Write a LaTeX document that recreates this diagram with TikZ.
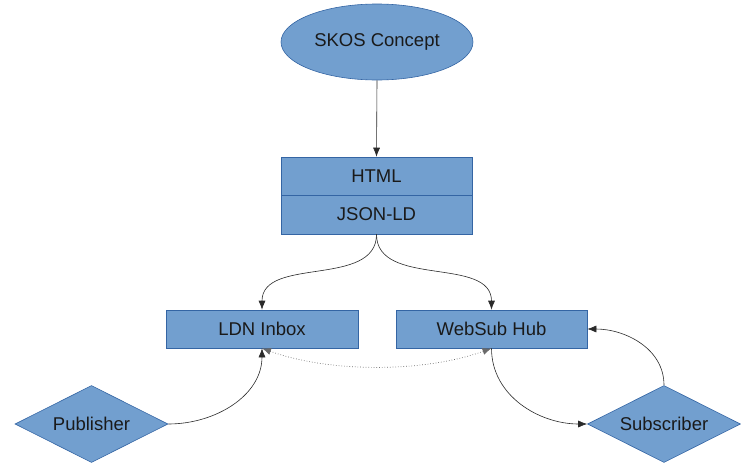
\documentclass[tikz,border=0pt]{standalone}
\usepackage{fontspec}
\setmainfont{Liberation Sans}
\usetikzlibrary{shapes.geometric,arrows.meta}
\definecolor{boxfill}{HTML}{729FCF}
\definecolor{boxline}{HTML}{3465A4}
\definecolor{txt}{HTML}{1A1A1A}
\definecolor{wire}{HTML}{2A2A2A}
\tikzset{
  every node/.style={font=\fontsize{18.5}{22}\selectfont, text=txt},
  ovalbox/.style={ellipse, draw=boxline, fill=boxfill, line width=0.6pt, inner sep=0pt, minimum width=192pt, minimum height=76pt},
  recbox/.style={rectangle, draw=boxline, fill=boxfill, line width=0.6pt, inner sep=0pt, minimum width=191pt, minimum height=38pt},
  dia/.style={diamond, shape aspect=2, draw=boxline, fill=boxfill, line width=0.6pt, inner sep=0pt, minimum width=153pt, minimum height=77pt},
  wirearrow/.style={draw=wire, line width=0.6pt, -{Latex[length=9pt,width=7pt]}},
  dotwire/.style={draw=wire!70, line width=0.7pt, dotted, {Latex[length=9pt,width=7pt]}-{Latex[length=9pt,width=7pt]}}
}
\begin{document}
\begin{tikzpicture}[x=1pt,y=1pt]
\useasboundingbox (0,0) rectangle (741,-466);
\node[ovalbox] (skos) at (377,-42) {SKOS Concept};
\node[recbox] (html) at (376.5,-176) {HTML};
\node[recbox, minimum height=39pt] (json) at (376.5,-214.5) {JSON-LD};
\node[recbox, minimum width=192pt] (ldn) at (262,-329) {LDN Inbox};
\node[recbox] (web) at (491.5,-329) {WebSub Hub};
\node[dia] (pub) at (91.5,-424) {Publisher};
\node[dia] (sub) at (664,-424) {Subscriber};
\draw[wirearrow] (skos.south) -- (html.north);
\draw[wirearrow] (json.south) to[out=-90,in=90] (ldn.north);
\draw[wirearrow] (json.south) to[out=-90,in=90] (web.north);
\draw[dotwire] (ldn.south) to[out=-20,in=-160,looseness=0.8] (web.south);
\draw[wirearrow] (pub.east) to[out=0,in=-90] (ldn.south);
\draw[wirearrow] (web.south) to[out=-90,in=180] (sub.west);
\draw[wirearrow] (sub.north) to[out=90,in=0] (web.east);
\end{tikzpicture}
\end{document}
